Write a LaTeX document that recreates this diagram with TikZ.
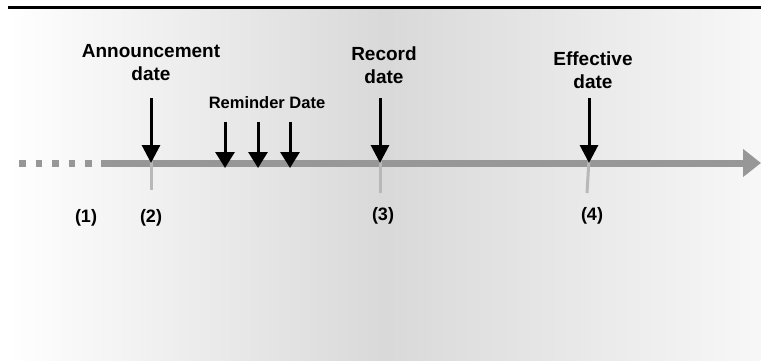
\documentclass[tikz,border=0pt]{standalone}
\usepackage{fontspec}
\setmainfont{Liberation Sans}
\usepackage{tikz}
\usetikzlibrary{positioning}
\usetikzlibrary{arrows.meta}
\definecolor{axisgray}{HTML}{979797}
\definecolor{tickgray}{HTML}{B8B8B8}
\tikzset{%
  datelabel/.style = {font=\bfseries\fontsize{19}{23}\selectfont,align=center,
        inner sep=0pt,anchor=base},
  smalllabel/.style = {font=\bfseries\fontsize{16.5}{19}\selectfont,
        inner sep=0pt,anchor=base},
  numlabel/.style = {font=\bfseries\fontsize{18}{21}\selectfont,
        inner sep=0pt,anchor=base},
  bigpointer/.style = {-{Triangle[width=18pt,length=18pt]},line width=3pt,black},
  smallpointer/.style = {-{Triangle[width=19pt,length=16pt]},line width=3pt,black},
  ticker/.style = {tickgray,line width=3pt},
  axis/.style = {axisgray,line width=7pt}
}
\begin{document}
\begin{tikzpicture}[x=1pt,y=-1pt]
  \useasboundingbox (0,0) rectangle (761,360);
  % background and top rule
  \shade[left color=white,right color=white!97!black,middle color=gray!30]
        (8,9) rectangle (761,360);
  \coordinate (ruleL) at (8,7);
  \coordinate (ruleR) at (761,7);
  \draw[line width=3pt,black] (ruleL) -- (ruleR);

  % time axis
  \coordinate (past) at (19,163);
  \coordinate (pastend) at (92,163);
  \coordinate (start) at (101,163);
  \coordinate (tip) at (761,163);
  \draw[axis,dash pattern=on 6.5pt off 10pt] (past) -- (pastend);
  \draw[axis,-{Triangle[width=27pt,length=18pt]}] (start) -- (tip);

  % points on the axis
  \coordinate (t2) at (151,163);
  \coordinate (t3) at (380,163);
  \coordinate (t4) at (589,163);
  \coordinate (r1) at (225,168);
  \coordinate (r2) at (258,168);
  \coordinate (r3) at (290,168);

  % ticks below the axis
  \coordinate (b2) at (151,190);
  \coordinate (b3) at (380,193);
  \coordinate (b4) at (587,193);
  \draw[ticker] ([yshift=4pt]t2) -- (b2);
  \draw[ticker] ([yshift=4pt]t3) -- (b3);
  \draw[ticker] ([yshift=4pt]t4) -- (b4);

  % labels above
  \node[datelabel] (ann) at (151,80) {Announcement\\date};
  \node[datelabel] (rec) at (384,83) {Record\\date};
  \node[datelabel] (eff) at (593,88) {Effective\\date};
  \node[smalllabel] (rem) at (267,108) {Reminder Date};

  % arrows
  \coordinate (a2) at (151,98);
  \coordinate (a3) at (380,98);
  \coordinate (a4) at (589,98);
  \draw[bigpointer] (a2) -- (t2);
  \draw[bigpointer] (a3) -- (t3);
  \draw[bigpointer] (a4) -- (t4);
  \foreach \k/\x in {1/225,2/258,3/290}{
    \coordinate (s\k) at (\x,122);
    \draw[smallpointer] (s\k) -- (r\k);
  }

  % numbers below
  \node[numlabel] (n1) at (86,222) {(1)};
  \node[numlabel] (n2) at (151,222) {(2)};
  \node[numlabel] (n3) at (383,220) {(3)};
  \node[numlabel] (n4) at (592,220) {(4)};
\end{tikzpicture}
\end{document}
